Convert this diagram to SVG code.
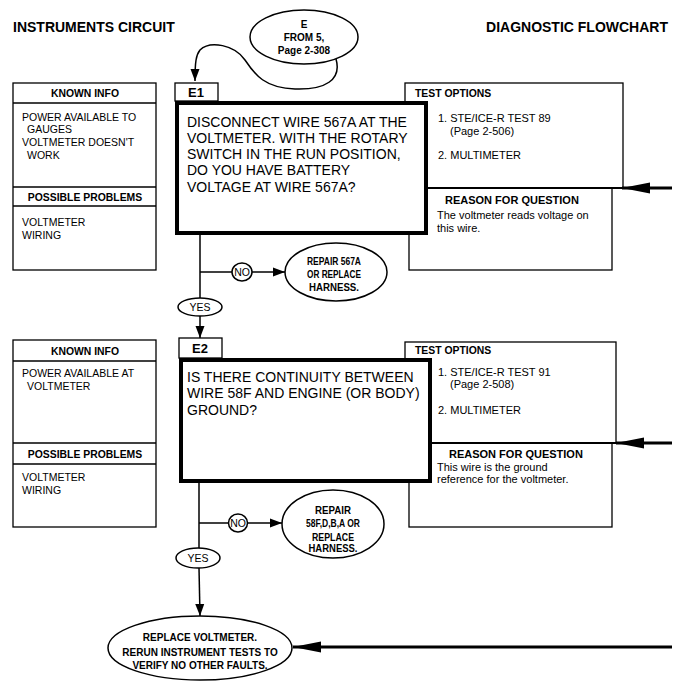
<svg xmlns="http://www.w3.org/2000/svg" width="680" height="693" viewBox="0 0 680 693">
<style>
text{font-family:"Liberation Sans",Arial,sans-serif;fill:#000}
.h{font-size:14px;font-weight:bold}
.b{font-size:10.4px;font-weight:bold}
.r{font-size:10.5px}
.t{font-size:11px}
.q{font-size:14px}
.tab{font-size:13px;font-weight:bold}
.o{font-size:10px;font-weight:bold}
.s{font-size:10.5px}
.box{fill:#fff;stroke:#000;stroke-width:1.3}
.main{fill:#fff;stroke:#000;stroke-width:4}
.ov{fill:#fff;stroke:#000;stroke-width:1.5}
.ln{fill:none;stroke:#000;stroke-width:1.5}
.thick{fill:none;stroke:#000;stroke-width:3}
</style>
<defs>
<marker id="ah" markerUnits="userSpaceOnUse" markerWidth="14" markerHeight="10" refX="12" refY="5" orient="auto">
<path d="M0,0.5 L12,5 L0,9.5 Z" fill="#000"/>
</marker>
<marker id="ab" markerUnits="userSpaceOnUse" markerWidth="30" markerHeight="12" refX="28" refY="6" orient="auto">
<path d="M0,0.5 L28,6 L0,11.5 Z" fill="#000"/>
</marker>
</defs>

<text class="h" x="13" y="32">INSTRUMENTS CIRCUIT</text>
<text class="h" x="668" y="32" text-anchor="end">DIAGNOSTIC FLOWCHART</text>

<g id="entryE">
<ellipse class="ov" cx="304" cy="37" rx="54" ry="27"/>
<text class="o" x="304" y="28" text-anchor="middle" font-size="10.5">E</text>
<text class="o" x="304" y="41" text-anchor="middle">FROM 5,</text>
<text class="o" x="304" y="54" text-anchor="middle">Page 2-308</text>
</g>

<g id="known1">
<rect class="box" x="13" y="83" width="143" height="187"/>
<line class="ln" x1="13" y1="103" x2="156" y2="103" stroke-width="1.3"/>
<line class="ln" x1="13" y1="187" x2="156" y2="187" stroke-width="1.3"/>
<line class="ln" x1="13" y1="206" x2="156" y2="206" stroke-width="1.3"/>
<text class="b" x="85" y="97" text-anchor="middle">KNOWN INFO</text>
<text class="r" x="22" y="121">POWER AVAILABLE TO</text>
<text class="r" x="27" y="133">GAUGES</text>
<text class="r" x="22" y="146">VOLTMETER DOESN'T</text>
<text class="r" x="27" y="159">WORK</text>
<text class="b" x="85" y="201" text-anchor="middle">POSSIBLE PROBLEMS</text>
<text class="r" x="22" y="226">VOLTMETER</text>
<text class="r" x="22" y="239">WIRING</text>
</g>

<g id="options1">
<rect class="box" x="405" y="83" width="218" height="105"/>
<line x1="405" y1="188" x2="623" y2="188" stroke="#000" stroke-width="2"/>
<text class="b" x="415" y="97">TEST OPTIONS</text>
<text class="t" x="438" y="122">1. STE/ICE-R TEST 89</text>
<text class="t" x="450" y="135">(Page 2-506)</text>
<text class="t" x="438" y="159">2. MULTIMETER</text>
</g>
<g id="reason1">
<rect class="box" x="409" y="188" width="203" height="82"/>
<line x1="405" y1="188" x2="623" y2="188" stroke="#000" stroke-width="2"/>
<text class="t" x="445" y="204" font-weight="bold">REASON FOR QUESTION</text>
<text class="t" x="437" y="219">The voltmeter reads voltage on</text>
<text class="t" x="437" y="232">this wire.</text>
</g>

<g id="E1">
<rect class="box" x="175" y="83" width="43" height="18"/>
<text class="tab" x="196" y="97" text-anchor="middle">E1</text>
<rect class="main" x="177" y="103" width="249" height="130"/>
<text class="q" x="187" y="127">DISCONNECT WIRE 567A AT THE</text>
<text class="q" x="187" y="143">VOLTMETER. WITH THE ROTARY</text>
<text class="q" x="187" y="159">SWITCH IN THE RUN POSITION,</text>
<text class="q" x="187" y="175">DO YOU HAVE BATTERY</text>
<text class="q" x="187" y="192">VOLTAGE AT WIRE 567A?</text>
</g>

<g id="no1">
<ellipse class="ov" cx="242" cy="272" rx="10" ry="9"/>
<text class="s" x="242" y="276" text-anchor="middle">NO</text>
</g>
<g id="repair1">
<ellipse class="ov" cx="336" cy="272" rx="51" ry="29" stroke-width="2"/>
<text class="o" x="334" y="265" text-anchor="middle" textLength="54" lengthAdjust="spacingAndGlyphs">REPAIR 567A</text>
<text class="o" x="334" y="278" text-anchor="middle" textLength="54" lengthAdjust="spacingAndGlyphs">OR REPLACE</text>
<text class="o" x="334" y="291" text-anchor="middle" textLength="50" lengthAdjust="spacingAndGlyphs">HARNESS.</text>
</g>
<g id="yes1">
<ellipse class="ov" cx="200" cy="307" rx="22" ry="9"/>
<text class="s" x="200" y="311" text-anchor="middle">YES</text>
</g>

<g id="known2">
<rect class="box" x="13" y="340" width="143" height="187"/>
<line class="ln" x1="13" y1="361" x2="156" y2="361" stroke-width="1.3"/>
<line class="ln" x1="13" y1="443" x2="156" y2="443" stroke-width="1.3"/>
<line class="ln" x1="13" y1="464" x2="156" y2="464" stroke-width="1.3"/>
<text class="b" x="85" y="355" text-anchor="middle">KNOWN INFO</text>
<text class="r" x="22" y="377">POWER AVAILABLE AT</text>
<text class="r" x="27" y="390">VOLTMETER</text>
<text class="b" x="85" y="458" text-anchor="middle">POSSIBLE PROBLEMS</text>
<text class="r" x="22" y="481">VOLTMETER</text>
<text class="r" x="22" y="494">WIRING</text>
</g>

<g id="options2">
<rect class="box" x="405" y="342" width="211" height="101"/>
<text class="b" x="415" y="354">TEST OPTIONS</text>
<text class="t" x="438" y="376">1. STE/ICE-R TEST 91</text>
<text class="t" x="450" y="388">(Page 2-508)</text>
<text class="t" x="438" y="414">2. MULTIMETER</text>
</g>
<g id="reason2">
<rect class="box" x="409" y="443" width="203" height="84"/>
<line x1="405" y1="443" x2="616" y2="443" stroke="#000" stroke-width="2"/>
<text class="t" x="449" y="458" font-weight="bold">REASON FOR QUESTION</text>
<text class="t" x="437" y="471">This wire is the ground</text>
<text class="t" x="437" y="483">reference for the voltmeter.</text>
</g>

<g id="E2">
<rect class="box" x="179" y="338" width="43" height="20"/>
<text class="tab" x="200" y="353" text-anchor="middle">E2</text>
<rect class="main" x="181" y="360" width="249" height="121"/>
<text class="q" x="187" y="382">IS THERE CONTINUITY BETWEEN</text>
<text class="q" x="187" y="398">WIRE 58F AND ENGINE (OR BODY)</text>
<text class="q" x="187" y="415">GROUND?</text>
</g>

<g id="no2">
<ellipse class="ov" cx="238" cy="523" rx="9.5" ry="9"/>
<text class="s" x="238" y="527" text-anchor="middle">NO</text>
</g>
<g id="repair2">
<ellipse class="ov" cx="333" cy="524" rx="51" ry="34" stroke-width="2"/>
<text class="o" x="333" y="514" text-anchor="middle" textLength="36" lengthAdjust="spacingAndGlyphs">REPAIR</text>
<text class="o" x="333" y="527" text-anchor="middle" textLength="54" lengthAdjust="spacingAndGlyphs">58F,D,B,A OR</text>
<text class="o" x="333" y="541" text-anchor="middle" textLength="42" lengthAdjust="spacingAndGlyphs">REPLACE</text>
<text class="o" x="333" y="552" text-anchor="middle" textLength="49" lengthAdjust="spacingAndGlyphs">HARNESS.</text>
</g>
<g id="yes2">
<ellipse class="ov" cx="198" cy="558" rx="22" ry="10"/>
<text class="s" x="198" y="562" text-anchor="middle">YES</text>
</g>

<g id="final">
<ellipse class="ov" cx="200" cy="648" rx="92" ry="32" stroke-width="2"/>
<text class="o" x="200" y="641" text-anchor="middle">REPLACE VOLTMETER.</text>
<text class="o" x="200" y="656" text-anchor="middle">RERUN INSTRUMENT TESTS TO</text>
<text class="o" x="200" y="669" text-anchor="middle">VERIFY NO OTHER FAULTS.</text>
</g>

<g id="connectors">
<path class="ln" d="M336,59 C342,80 325,90 295,89 C265,88 255,75 245,60 C235,45 210,40 200,50 C196,55 195,62 195,81" marker-end="url(#ah)"/>
<line class="ln" x1="200" y1="235" x2="200" y2="298"/>
<line class="ln" x1="200" y1="272" x2="232" y2="272"/>
<line class="ln" x1="252" y1="272" x2="285" y2="272" marker-end="url(#ah)"/>
<line class="ln" x1="200" y1="316" x2="200" y2="338" marker-end="url(#ah)"/>
<line class="ln" x1="199" y1="483" x2="199" y2="548"/>
<line class="ln" x1="199" y1="523" x2="228.5" y2="523"/>
<line class="ln" x1="247.5" y1="523" x2="282" y2="523" marker-end="url(#ah)"/>
<line class="ln" x1="199" y1="568" x2="200" y2="616" marker-end="url(#ah)"/>
<line class="thick" x1="672" y1="188" x2="622" y2="188" marker-end="url(#ab)"/>
<line class="thick" x1="672" y1="443" x2="616" y2="443" marker-end="url(#ab)"/>
<line class="thick" x1="672" y1="647" x2="293" y2="647" marker-end="url(#ab)"/>
</g>
</svg>
